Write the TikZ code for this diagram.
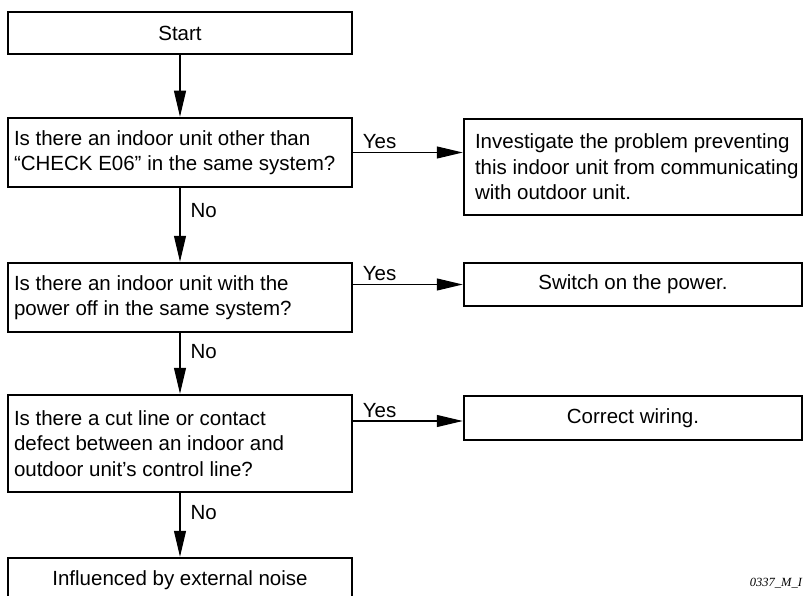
\documentclass[tikz,border=0pt]{standalone}
\usepackage{fontspec}
\setmainfont{Liberation Sans}
\newfontfamily\codefont{Liberation Serif}
\usetikzlibrary{arrows.meta}
\newcommand\myboxfont{\fontsize{20.5}{25.5}\selectfont\hyphenpenalty=10000 }
\newcommand\ind{\hspace*{10pt}}
\tikzset{
  box/.style={draw, line width=2.5pt, inner sep=0pt, font=\myboxfont},
  qbox/.style={box, minimum width=344pt, align=flush left, text width=332pt},
  flow/.style={line width=1.1pt, -{Triangle[length=26pt,width=12pt]}},
  lbl/.style={font=\fontsize{20.5}{24}\selectfont, inner sep=0pt}
}
\begin{document}
\begin{tikzpicture}[x=1pt,y=-1pt]
\useasboundingbox (0,0) rectangle (803,596);
\node[box, minimum width=344pt, minimum height=42pt] (start) at (180,33) {Start};
\node[qbox, minimum height=69pt] (q1) at (180,152.5) {Is there an indoor unit other than\\“CHECK E06” in the same system?};
\node[box, minimum width=338pt, minimum height=96pt, align=flush left, text width=336pt] (r1) at (633,167) {\ind Investigate the problem preventing\\\ind this indoor unit from communicating\\\ind with outdoor unit.};
\node[qbox, minimum height=69pt] (q2) at (180,297.5) {Is there an indoor unit with the\\power off in the same system?};
\node[box, minimum width=338pt, minimum height=43pt] (r2) at (633,284.5) {Switch on the power.};
\node[qbox, minimum height=97pt] (q3) at (180,443.5) {Is there a cut line or contact\\defect between an indoor and\\outdoor unit’s control line?};
\node[box, minimum width=338pt, minimum height=44pt] (r3) at (633,418) {Correct wiring.};
\node[box, minimum width=344pt, minimum height=44pt] (end) at (180,580) {Influenced by external noise};
\node[font=\codefont\itshape\fontsize{12.5}{14}\selectfont, inner sep=0pt] (code) at (776,583) {0337\_M\_I};

\draw[flow] (start) -- (q1);
\draw[flow] (q1) -- node[lbl, anchor=west, xshift=10pt, yshift=14pt] {No} (q2);
\draw[flow] (q2) -- node[lbl, anchor=west, xshift=10pt, yshift=12pt] {No} (q3);
\draw[flow] (q3) -- node[lbl, anchor=west, xshift=10pt, yshift=12pt] {No} (end);
\draw[flow] (q1.east) -- node[lbl, pos=0.24, anchor=south, yshift=3pt] {Yes} (r1.west |- q1.east);
\draw[flow] (q2.east |- r2.west) -- node[lbl, pos=0.24, anchor=south, yshift=3pt] {Yes} (r2.west);
\draw[flow] (q3.east |- 0,421) -- node[lbl, pos=0.24, anchor=south, yshift=3pt] {Yes} (r3.west |- 0,421);
\end{tikzpicture}
\end{document}
